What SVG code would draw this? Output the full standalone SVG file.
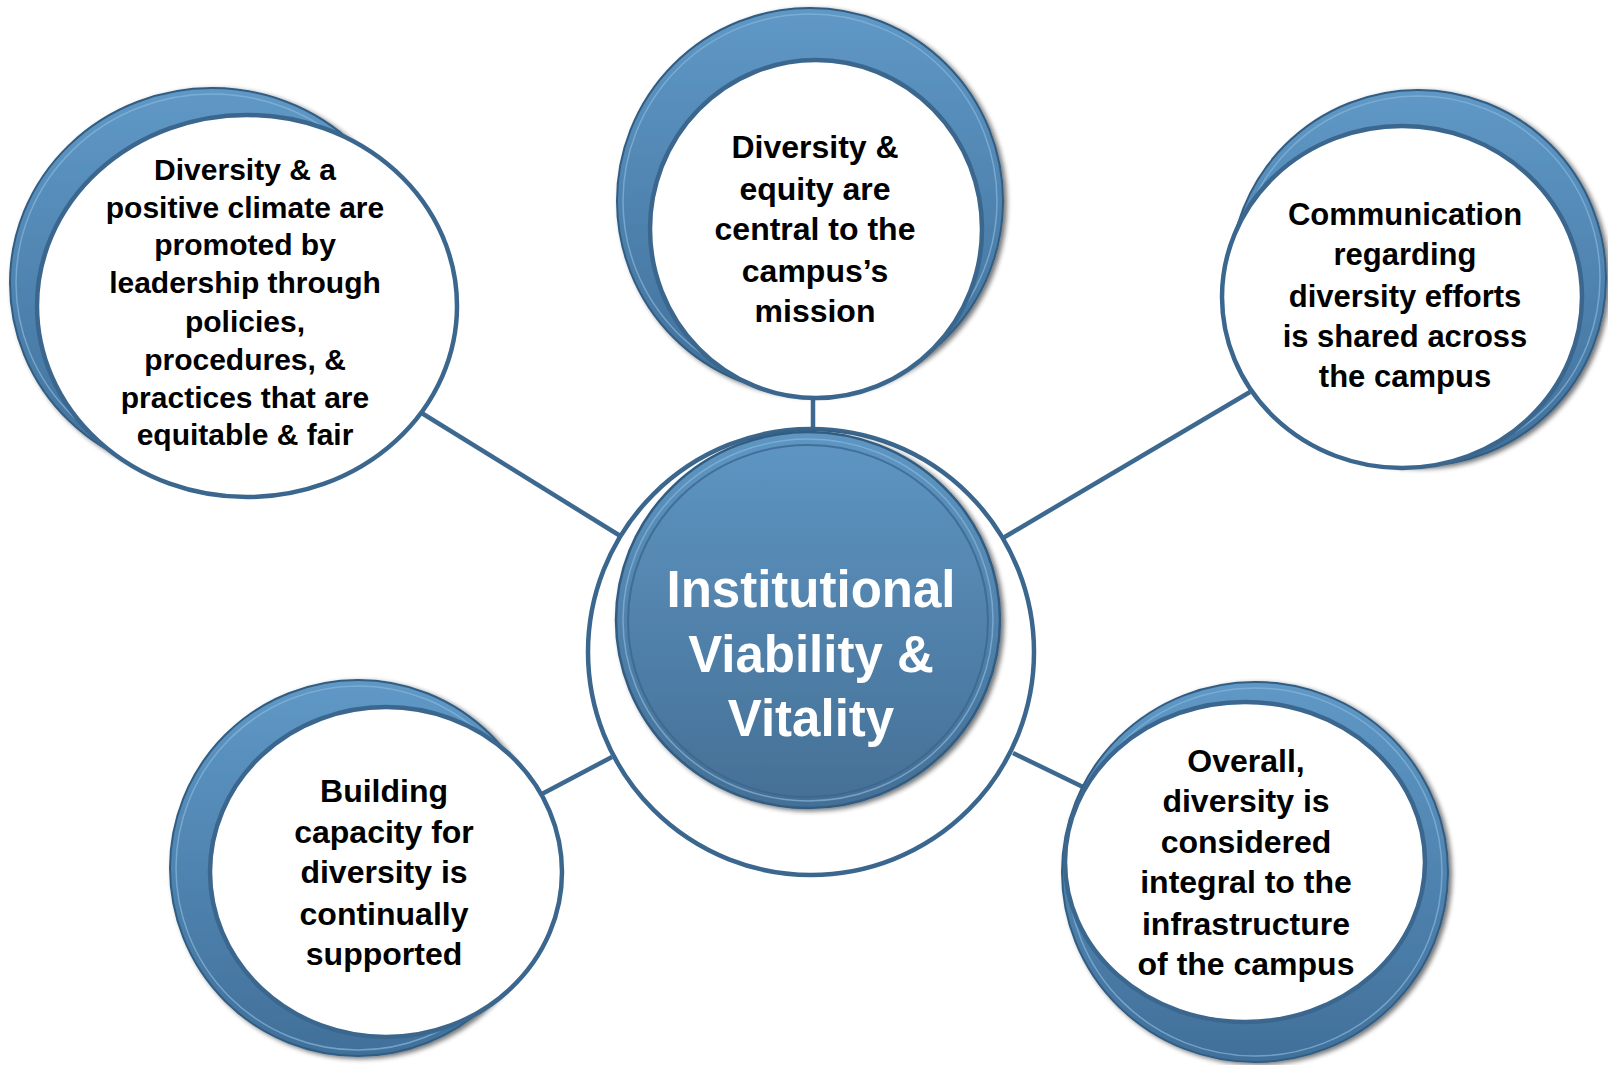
<svg xmlns="http://www.w3.org/2000/svg" width="1608" height="1065" viewBox="0 0 1608 1065">
<defs>
  <linearGradient id="blueG" x1="0" y1="0" x2="0" y2="1">
    <stop offset="0" stop-color="#5f98c6"/>
    <stop offset="1" stop-color="#41709a"/>
  </linearGradient>
  <linearGradient id="centerG" x1="0" y1="0" x2="0" y2="1">
    <stop offset="0" stop-color="#5e96c3"/>
    <stop offset="1" stop-color="#456f95"/>
  </linearGradient>
  <filter id="shadow" x="-10%" y="-10%" width="120%" height="120%">
    <feGaussianBlur in="SourceAlpha" stdDeviation="2.5"/>
    <feOffset dx="3" dy="2" result="b"/>
    <feComponentTransfer><feFuncA type="linear" slope="0.55"/></feComponentTransfer>
    <feMerge><feMergeNode/><feMergeNode in="SourceGraphic"/></feMerge>
  </filter>
  <style>
    .blue { fill: url(#blueG); stroke: #335d82; stroke-width: 2; filter: url(#shadow); }
    .hl { fill: none; stroke: #86b6dc; stroke-width: 1.5; opacity: 0.7; }
    .inner { fill: none; stroke: #3c678d; stroke-width: 2; opacity: 0.8; }
    .white { fill: #ffffff; stroke: #3b678e; stroke-width: 4.5; }
    .conn { stroke: #3d6990; stroke-width: 4.5; fill: none; }
    .lbl { font-family: "Liberation Sans", Arial, sans-serif; font-weight: bold; fill: #000000; text-anchor: middle; }
    .ctr { font-family: "Liberation Sans", Arial, sans-serif; font-weight: bold; fill: #ffffff; text-anchor: middle; font-size: 51px; }
  </style>
</defs>
<rect width="1608" height="1065" fill="#ffffff"/>

<g id="connectors">
  <line class="conn" x1="813" y1="398" x2="813" y2="431"/>
  <line class="conn" x1="420" y1="412" x2="622" y2="537"/>
  <line class="conn" x1="1250" y1="392" x2="1003" y2="538"/>
  <line class="conn" x1="540" y1="795" x2="612" y2="757"/>
  <line class="conn" x1="1013" y1="753" x2="1083" y2="787"/>
</g>

<g id="node-center">
  <circle class="white" cx="811" cy="652" r="223"/>
  <ellipse cx="808" cy="620" rx="192" ry="188" fill="url(#centerG)" stroke="#335d82" stroke-width="2.5" filter="url(#shadow)"/>
  <ellipse class="hl" cx="808" cy="620" rx="185" ry="181"/>
  <ellipse class="inner" cx="808" cy="621" rx="180" ry="176"/>
  <text class="ctr" x="811" y="607">Institutional</text>
  <text class="ctr" x="811" y="672">Viability &amp;</text>
  <text class="ctr" x="811" y="736">Vitality</text>
</g>

<g id="node-top-left">
  <ellipse class="blue" cx="212" cy="283" rx="202" ry="195"/>
  <ellipse class="hl" cx="212" cy="283" rx="196" ry="189"/>
  <ellipse class="white" cx="247" cy="306" rx="210" ry="191"/>
  <text class="lbl" font-size="30" x="245" y="180">Diversity &amp; a</text>
  <text class="lbl" font-size="30" x="245" y="218">positive climate are</text>
  <text class="lbl" font-size="30" x="245" y="255">promoted by</text>
  <text class="lbl" font-size="30" x="245" y="293">leadership through</text>
  <text class="lbl" font-size="30" x="245" y="332">policies,</text>
  <text class="lbl" font-size="30" x="245" y="370">procedures, &amp;</text>
  <text class="lbl" font-size="30" x="245" y="408">practices that are</text>
  <text class="lbl" font-size="30" x="245" y="445">equitable &amp; fair</text>
</g>

<g id="node-top">
  <circle class="blue" cx="810" cy="201" r="193"/>
  <circle class="hl" cx="810" cy="201" r="187"/>
  <ellipse class="white" cx="816" cy="229" rx="166" ry="169"/>
  <text class="lbl" font-size="32" x="815" y="158">Diversity &amp;</text>
  <text class="lbl" font-size="32" x="815" y="200">equity are</text>
  <text class="lbl" font-size="32" x="815" y="240">central to the</text>
  <text class="lbl" font-size="32" x="815" y="282">campus’s</text>
  <text class="lbl" font-size="32" x="815" y="322">mission</text>
</g>

<g id="node-top-right">
  <circle class="blue" cx="1418" cy="278" r="188"/>
  <circle class="hl" cx="1418" cy="278" r="182"/>
  <ellipse class="white" cx="1402" cy="297" rx="180" ry="171"/>
  <text class="lbl" font-size="31" x="1405" y="225">Communication</text>
  <text class="lbl" font-size="31" x="1405" y="265">regarding</text>
  <text class="lbl" font-size="31" x="1405" y="307">diversity efforts</text>
  <text class="lbl" font-size="31" x="1405" y="347">is shared across</text>
  <text class="lbl" font-size="31" x="1405" y="387">the campus</text>
</g>

<g id="node-bottom-left">
  <ellipse class="blue" cx="358" cy="868" rx="188" ry="188"/>
  <ellipse class="hl" cx="358" cy="868" rx="182" ry="182"/>
  <ellipse class="white" cx="386" cy="872" rx="176" ry="165"/>
  <text class="lbl" font-size="32" x="384" y="802">Building</text>
  <text class="lbl" font-size="32" x="384" y="843">capacity for</text>
  <text class="lbl" font-size="32" x="384" y="883">diversity is</text>
  <text class="lbl" font-size="32" x="384" y="925">continually</text>
  <text class="lbl" font-size="32" x="384" y="965">supported</text>
</g>

<g id="node-bottom-right">
  <ellipse class="blue" cx="1255" cy="872" rx="193" ry="190"/>
  <ellipse class="hl" cx="1255" cy="872" rx="187" ry="184"/>
  <ellipse class="white" cx="1245" cy="862" rx="180" ry="160"/>
  <text class="lbl" font-size="32" x="1246" y="772">Overall,</text>
  <text class="lbl" font-size="32" x="1246" y="812">diversity is</text>
  <text class="lbl" font-size="32" x="1246" y="853">considered</text>
  <text class="lbl" font-size="32" x="1246" y="893">integral to the</text>
  <text class="lbl" font-size="32" x="1246" y="935">infrastructure</text>
  <text class="lbl" font-size="32" x="1246" y="975">of the campus</text>
</g>
</svg>
